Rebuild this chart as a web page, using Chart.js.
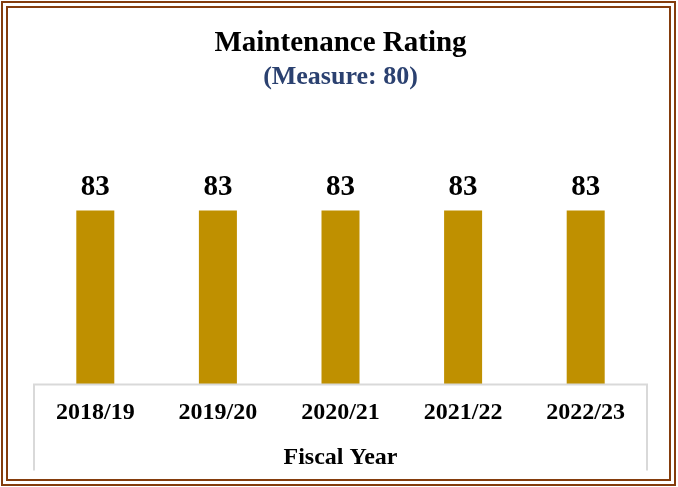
<!DOCTYPE html>
<html>
<head>
<meta charset="utf-8">
<script src="https://cdn.jsdelivr.net/npm/chart.js@4"></script>
<style>
  html, body { margin: 0; padding: 0; background: #fff; }
  #wrap { position: relative; width: 678px; height: 487px; }
  #frame {
    position: absolute; left: 1px; top: 1px; width: 661px; height: 471px;
    border: 7px double #843C0C; pointer-events: none;
  }
</style>
</head>
<body>
<div id="wrap">
  <canvas id="chart" width="678" height="487"></canvas>
  <div id="frame"></div>
</div>
<script>
// ===== 資料 =====
const years  = ['2018/19', '2019/20', '2020/21', '2021/22', '2022/23'];
const rating = [83, 83, 83, 83, 83];
const measure = 80;

const SERIF = '"Liberation Serif", "Times New Roman", serif';

// 數值標籤（畫在柱子上方）
const valueLabels = {
  id: 'valueLabels',
  afterDatasetsDraw(chart) {
    const ctx = chart.ctx;
    const meta = chart.getDatasetMeta(0);
    ctx.save();
    ctx.font = 'bold 29px ' + SERIF;
    ctx.fillStyle = '#000';
    ctx.textAlign = 'center';
    ctx.textBaseline = 'middle';
    meta.data.forEach((bar, i) => {
      ctx.fillText(rating[i], bar.x, bar.y - 23);
    });
    ctx.restore();
  }
};

// 類別軸外框（左、右、上）
const axisBox = {
  id: 'axisBox',
  afterDraw(chart) {
    const { ctx, chartArea } = chart;
    const h = 86;
    ctx.save();
    ctx.strokeStyle = '#d9d9d9';
    ctx.lineWidth = 2;
    ctx.beginPath();
    ctx.moveTo(chartArea.left, chartArea.bottom + h);
    ctx.lineTo(chartArea.left, chartArea.bottom);
    ctx.lineTo(chartArea.right, chartArea.bottom);
    ctx.lineTo(chartArea.right, chartArea.bottom + h);
    ctx.stroke();
    ctx.restore();
  }
};

new Chart(document.getElementById('chart'), {
  type: 'bar',
  data: {
    labels: years,
    datasets: [{
      data: rating,
      backgroundColor: '#BF9000',
      barPercentage: 0.31,
      categoryPercentage: 1
    }]
  },
  options: {
    responsive: false,
    animation: false,
    layout: { padding: { left: 34, right: 31, top: 22, bottom: 14.6 } },
    plugins: {
      legend: { display: false },
      tooltip: { enabled: false },
      title: {
        display: true,
        text: 'Maintenance Rating',
        color: '#000',
        font: { family: SERIF, size: 29, weight: 'bold' },
        padding: { top: 4, bottom: 0 }
      },
      subtitle: {
        display: true,
        text: '(Measure: ' + measure + ')',
        color: '#2B4170',
        font: { family: SERIF, size: 26, weight: 'bold' },
        padding: { top: 1, bottom: 82 }
      }
    },
    scales: {
      x: {
        grid: { display: false, drawTicks: false },
        border: { display: false },
        ticks: {
          color: '#000',
          padding: 13.6,
          font: { family: SERIF, size: 24, weight: 'bold' }
        },
        title: {
          display: true,
          text: 'Fiscal Year',
          color: '#000',
          font: { family: SERIF, size: 24, weight: 'bold' },
          padding: { top: 3.2, bottom: 0 }
        }
      },
      y: {
        display: false,
        min: 0,
        max: 100
      }
    }
  },
  plugins: [valueLabels, axisBox]
});
</script>
</body>
</html>
